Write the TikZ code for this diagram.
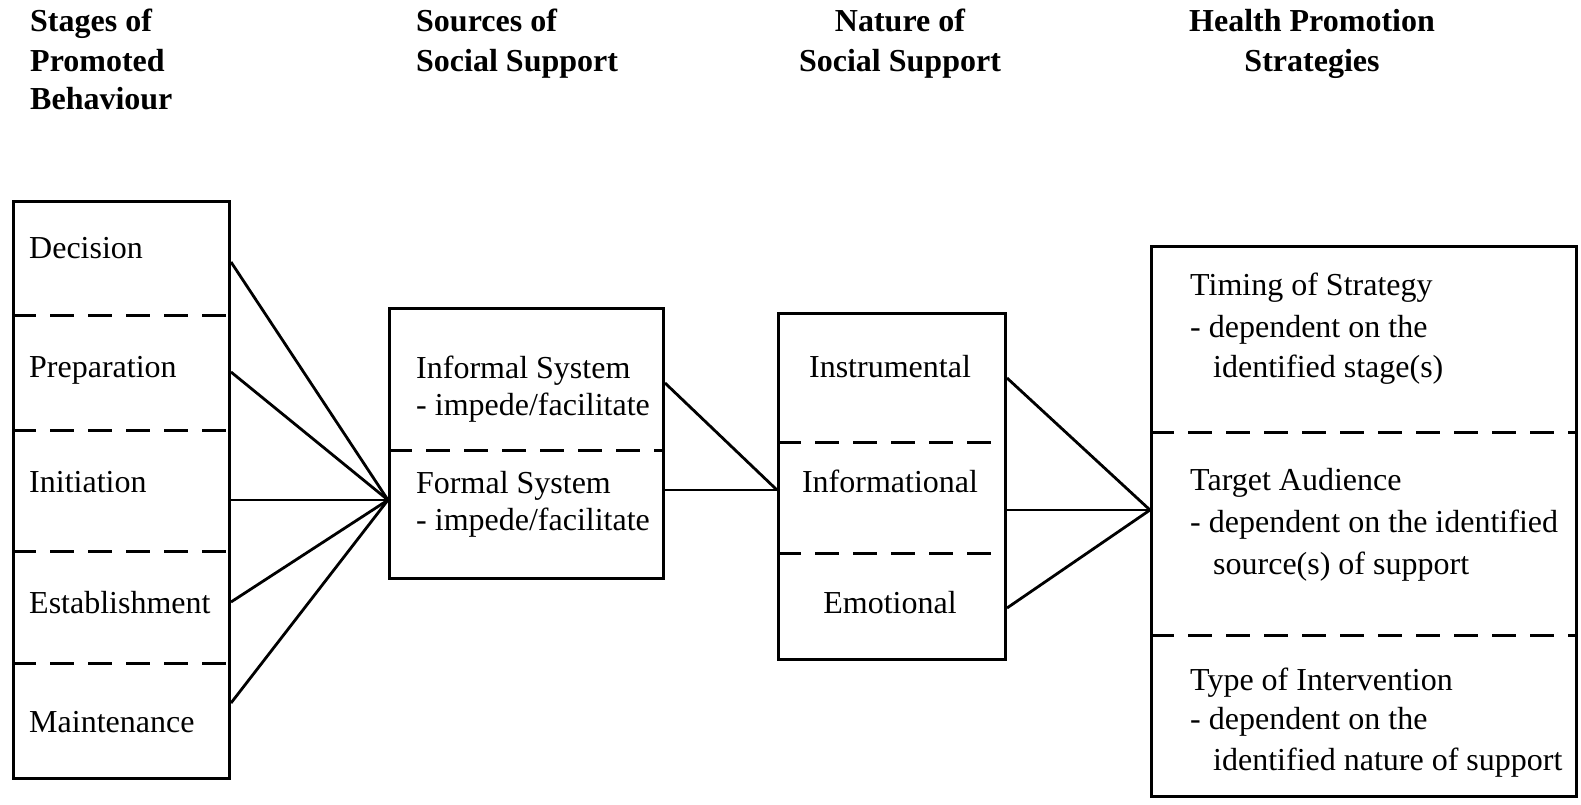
\documentclass[tikz,border=0pt]{standalone}
\usepackage{fontspec}
\setmainfont{Liberation Serif}
\begin{document}
\begin{tikzpicture}[x=1pt,y=-1pt,
  txt/.style={font=\fontsize{32pt}{40pt}\selectfont, inner sep=0pt, anchor=base west},
  txtc/.style={txt, anchor=base},
  hdr/.style={font=\fontsize{32pt}{40pt}\selectfont\bfseries, inner sep=0pt, anchor=base west},
  hdrc/.style={hdr, anchor=base},
  boxframe/.style={draw, line width=3pt, inner sep=0pt, anchor=north west},
  sep/.style={line width=3pt, dash pattern=on 24pt off 14pt},
  conn/.style={line width=2.8pt}]
\fill[white] (0,0) rectangle (1581,804);
\useasboundingbox (0,0) rectangle (1581,804);

% headers
\node[hdr] (h1a) at (30,31) {Stages of};
\node[hdr] (h1b) at (30,71) {Promoted};
\node[hdr] (h1c) at (30,109) {Behaviour};
\node[hdr] (h2a) at (416,31) {Sources of};
\node[hdr] (h2b) at (416,71) {Social Support};
\node[hdrc] (h3a) at (900,31) {Nature of};
\node[hdrc] (h3b) at (900,71) {Social Support};
\node[hdrc] (h4a) at (1312,31) {Health Promotion};
\node[hdrc] (h4b) at (1312,71) {Strategies};

% boxes
\node[boxframe, minimum width=216pt, minimum height=577pt] (stages) at (12,200) {};
\node[boxframe, minimum width=274pt, minimum height=270pt] (sources) at (388,307) {};
\node[boxframe, minimum width=227pt, minimum height=346pt] (nature) at (777,312) {};
\node[boxframe, minimum width=425pt, minimum height=550pt] (strat) at (1150,245) {};

% separators
\foreach \yy in {315,430,551,663}
  \draw[sep] (stages.west |- 0,\yy) -- (stages.east |- 0,\yy);
\draw[sep] (sources.west |- 0,450) -- (sources.east |- 0,450);
\foreach \yy in {442,553}
  \draw[sep] (nature.west |- 0,\yy) -- (nature.east |- 0,\yy);
\foreach \yy in {432,635}
  \draw[sep] (strat.west |- 0,\yy) -- (strat.east |- 0,\yy);

% stage texts
\node[txt] (decision) at (29,258) {Decision};
\node[txt] (preparation) at (29,377) {Preparation};
\node[txt] (initiation) at (29,492) {Initiation};
\node[txt] (establishment) at (29,613) {Establishment};
\node[txt] (maintenance) at (29,732) {Maintenance};

% sources texts
\node[txt] (inf1) at (416,378) {Informal System};
\node[txt] (inf2) at (416,415) {- impede/facilitate};
\node[txt] (for1) at (416,493) {Formal System};
\node[txt] (for2) at (416,530) {- impede/facilitate};

% nature texts
\node[txtc] (instr) at (890,377) {Instrumental};
\node[txtc] (inform) at (890,492) {Informational};
\node[txtc] (emot) at (890,613) {Emotional};

% strategy texts
\node[txt] (t1) at (1190,295) {Timing of Strategy};
\node[txt] (t2) at (1190,337) {- dependent on the};
\node[txt] (t3) at (1213,377) {identified stage(s)};
\node[txt] (a1) at (1190,490) {Target Audience};
\node[txt] (a2) at (1190,532) {- dependent on the identified};
\node[txt] (a3) at (1213,574) {source(s) of support};
\node[txt] (v1) at (1190,690) {Type of Intervention};
\node[txt] (v2) at (1190,729) {- dependent on the};
\node[txt] (v3) at (1213,770) {identified nature of support};

% connectors
\coordinate (cs) at (sources.west |- 0,500);
\coordinate (cn) at (nature.west |- 0,490);
\coordinate (ct) at (strat.west |- 0,510);
\foreach \yy in {262,372,500,602,703}
  \draw[conn] (stages.east |- 0,\yy) -- (cs);
\foreach \yy in {383,490}
  \draw[conn] (sources.east |- 0,\yy) -- (cn);
\foreach \yy in {378,510,608}
  \draw[conn] (nature.east |- 0,\yy) -- (ct);
\end{tikzpicture}
\end{document}
